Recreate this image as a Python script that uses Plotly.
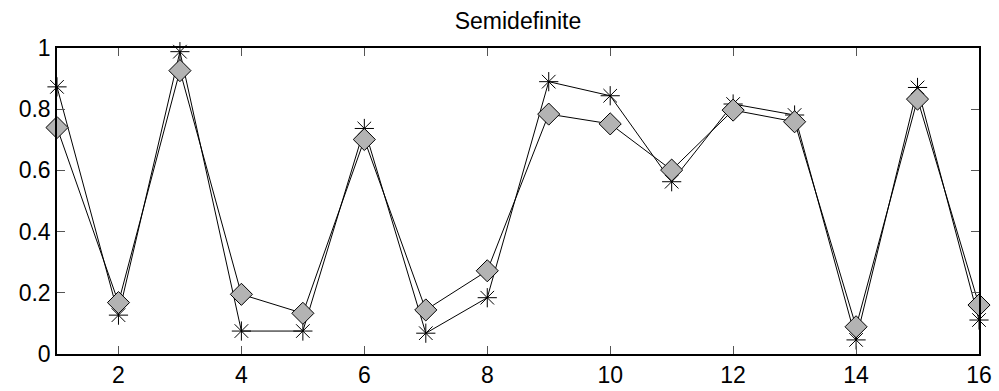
import plotly.graph_objects as go

x_vals = list(range(1, 17))
star_values = [0.873, 0.127, 0.988, 0.075, 0.075, 0.737, 0.068, 0.184,
               0.890, 0.844, 0.563, 0.817, 0.781, 0.046, 0.871, 0.111]
diamond_values = [0.740, 0.168, 0.926, 0.195, 0.133, 0.701, 0.144, 0.272,
                  0.784, 0.752, 0.601, 0.797, 0.759, 0.089, 0.833, 0.160]
x_ticks = [2, 4, 6, 8, 10, 12, 14, 16]
y_ticks = [0, 0.2, 0.4, 0.6, 0.8, 1]
y_tick_labels = ["0", "0.2", "0.4", "0.6", "0.8", "1"]
title_text = "Semidefinite"

FONT = "Liberation Sans, Arial, Helvetica, sans-serif"

fig = go.Figure()
fig.add_trace(go.Scatter(
    x=x_vals, y=star_values, mode="lines+markers",
    line=dict(color="black", width=1),
    marker=dict(symbol="asterisk-open", size=16, color="black",
                line=dict(color="black", width=1)),
    cliponaxis=False, showlegend=False))
fig.add_trace(go.Scatter(
    x=x_vals, y=diamond_values, mode="lines+markers",
    line=dict(color="black", width=1),
    marker=dict(symbol="diamond", size=17, color="#b3b3b3",
                line=dict(color="black", width=1)),
    cliponaxis=False, showlegend=False))

axis_common = dict(showline=True, linecolor="black", linewidth=1.5, mirror="allticks",
                   ticks="inside", ticklen=8, tickcolor="#555555", tickwidth=1,
                   showgrid=False, zeroline=False, automargin=False,
                   tickfont=dict(family=FONT, size=23, color="black"))

fig.update_layout(
    width=999, height=391,
    margin=dict(l=57, r=20, t=48, b=37),
    paper_bgcolor="white", plot_bgcolor="white",
    title=dict(text=title_text, x=0.5, xref="paper", xanchor="center",
               y=1 - 21 / 391, yref="container", yanchor="middle",
               font=dict(family=FONT, size=23, color="black")),
    xaxis=dict(range=[1, 16], tickvals=x_ticks, **axis_common),
    yaxis=dict(range=[0, 1], tickvals=y_ticks, ticktext=y_tick_labels, **axis_common),
)

fig.write_html("out.html")
